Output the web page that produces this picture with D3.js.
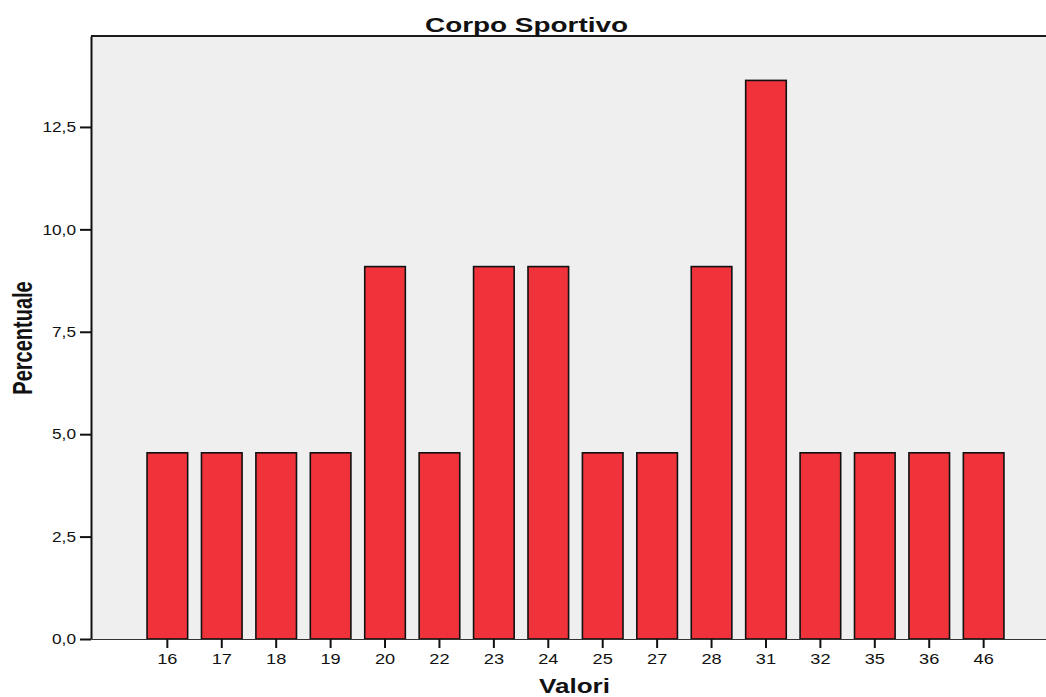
<!DOCTYPE html>
<html><head><meta charset="utf-8">
<script src="https://cdn.jsdelivr.net/npm/d3@7/dist/d3.min.js"></script>
<style>body{margin:0;background:#fff;} svg{display:block;font-family:"Liberation Sans",Arial,sans-serif;}</style>
</head><body>
<script>
const categories = ["16","17","18","19","20","22","23","24","25","27","28","31","32","35","36","46"];
const values = [4.545,4.545,4.545,4.545,9.091,4.545,9.091,9.091,4.545,4.545,9.091,13.636,4.545,4.545,4.545,4.545];
const yTicks = [0,2.5,5,7.5,10,12.5];
const title = "Corpo Sportivo";
const xTitle = "Valori";
const yTitle = "Percentuale";

const W = 1046, H = 697;
const pLeft = 91, pRight = 1060, pTop = 36, pBottom = 639;
const svg = d3.select("body").append("svg").attr("width", W).attr("height", H);

const x = d3.scaleBand().domain(categories).range([pLeft, pRight]).paddingInner(0.254).paddingOuter(1.03);
const y = d3.scaleLinear().domain([0, 14.72]).range([pBottom, pTop]);

svg.append("rect").attr("x", pLeft).attr("y", pTop).attr("width", pRight - pLeft).attr("height", pBottom - pTop).attr("fill", "#efefef");

svg.append("g").selectAll("rect").data(values).join("rect")
  .attr("x", (d, i) => x(categories[i]))
  .attr("y", d => y(d))
  .attr("width", x.bandwidth())
  .attr("height", d => y(0) - y(d))
  .attr("fill", "#f0333b")
  .attr("stroke", "#111").attr("stroke-width", 1.6);

// top border
svg.append("line").attr("x1", pLeft).attr("x2", pRight).attr("y1", pTop).attr("y2", pTop).attr("stroke", "#1a1a1a").attr("stroke-width", 2);

// y axis
const yAxis = svg.append("g").attr("transform", `translate(${pLeft},0)`)
  .call(d3.axisLeft(y).tickValues(yTicks).tickSize(11).tickSizeOuter(0).tickPadding(4).tickFormat(d => d3.format(".1f")(d).replace(".", ",")));
yAxis.select(".domain").attr("stroke", "#111").attr("stroke-width", 2);
yAxis.selectAll(".tick line").attr("stroke", "#111").attr("stroke-width", 2);
yAxis.selectAll(".tick text").attr("font-size", 15).attr("fill", "#111").attr("x", 0)
  .attr("transform", "translate(-15,0) scale(1.15,1)");

// x axis
const xAxis = svg.append("g").attr("transform", `translate(0,${pBottom})`)
  .call(d3.axisBottom(x).tickSize(9).tickPadding(6).tickSizeOuter(0));
xAxis.select(".domain").attr("stroke", "#333").attr("stroke-width", 1);
xAxis.selectAll(".tick line").attr("stroke", "#111").attr("stroke-width", 2);
xAxis.selectAll(".tick text").attr("font-size", 14).attr("fill", "#111").attr("transform", "scale(1.3,1)")
  .attr("x", 0).attr("dy", "0.71em");

// titles
svg.append("text").attr("x", 425).attr("y", 32).attr("font-size", 21).attr("font-weight", "bold")
  .attr("textLength", 203).attr("lengthAdjust", "spacingAndGlyphs").attr("fill", "#111").text(title);
svg.append("text").attr("x", 539).attr("y", 693).attr("font-size", 21).attr("font-weight", "bold")
  .attr("textLength", 71).attr("lengthAdjust", "spacingAndGlyphs").attr("fill", "#111").text(xTitle);
svg.append("text").attr("transform", "translate(32,338) scale(1.35,1) rotate(-90)")
  .attr("text-anchor", "middle").attr("font-size", 20).attr("font-weight", "bold").attr("fill", "#111").text(yTitle);
</script>
</body></html>
